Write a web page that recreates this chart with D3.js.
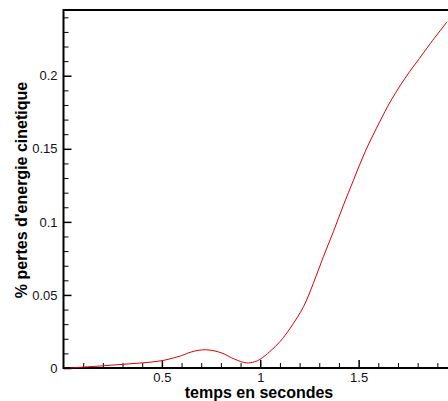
<!DOCTYPE html>
<html>
<head>
<meta charset="utf-8">
<script src="https://cdn.jsdelivr.net/npm/d3@7"></script>
<style>
  body { margin: 0; background: #fff; }
  text { font-family: "Liberation Sans", Arial, sans-serif; }
</style>
</head>
<body>
<div id="chart"></div>
<script>
// temps (s) et % pertes d'energie cinetique
var temps = [0.03, 0.1, 0.2, 0.3, 0.4, 0.5, 0.6, 0.65, 0.72, 0.8, 0.87, 0.93, 0.97, 1.0,
    1.05, 1.1, 1.152, 1.22, 1.27, 1.321, 1.372, 1.423, 1.474, 1.533, 1.609, 1.66,
    1.71, 1.76, 1.81, 1.864, 1.95];
var pertes = [0.0, 0.0006, 0.0015, 0.0025, 0.0035, 0.005, 0.0085, 0.011, 0.0125, 0.0105,
    0.006, 0.0035, 0.0042, 0.006, 0.0114, 0.018, 0.0272, 0.042, 0.058, 0.0762, 0.0934,
    0.1115, 0.1286, 0.148, 0.169, 0.182, 0.193, 0.203, 0.212, 0.222, 0.237];
var xTicks = [0.5, 1, 1.5];
var xMinor = [0.1, 0.2, 0.3, 0.4, 0.6, 0.7, 0.8, 0.9, 1.1, 1.2, 1.3, 1.4, 1.6, 1.7, 1.8, 1.9];
var yTicks = [0, 0.05, 0.1, 0.15, 0.2];
var yMinor = d3.range(1, 25).map(function(i) { return i / 100; })
    .filter(function(v) { return Math.round(v * 100) % 5 !== 0; });

var width = 448, height = 401;

var x = d3.scaleLinear().domain([0, 2]).range([63.5, 457]);
var y = d3.scaleLinear().domain([0, 0.245]).range([368, 10]);

var svg = d3.select("#chart")
    .append("svg")
    .attr("width", width)
    .attr("height", height);

// minor ticks
svg.append("g")
    .attr("transform", "translate(0," + y(0) + ")")
    .call(d3.axisBottom(x).tickValues(xMinor).tickSize(-5).tickFormat(""))
    .call(function(g) { g.select(".domain").remove(); });
svg.append("g")
    .attr("transform", "translate(" + x(0) + ",0)")
    .call(d3.axisLeft(y).tickValues(yMinor).tickSize(-5).tickFormat(""))
    .call(function(g) { g.select(".domain").remove(); });

// major ticks
var gx = svg.append("g")
    .attr("transform", "translate(0," + y(0) + ")")
    .call(d3.axisBottom(x).tickValues(xTicks).tickSizeInner(-8).tickSizeOuter(0).tickPadding(5)
        .tickFormat(d3.format("")));
var gy = svg.append("g")
    .attr("transform", "translate(" + x(0) + ",0)")
    .call(d3.axisLeft(y).tickValues(yTicks).tickSizeInner(-8).tickSizeOuter(0).tickPadding(6)
        .tickFormat(d3.format("")));

[gx, gy].forEach(function(g) {
    g.select(".domain").remove();
    g.selectAll(".tick line").attr("stroke-width", 1.5);
    g.selectAll("text")
        .attr("font-size", 13)
        .attr("fill", "#111")
        .style("font-family", "'Liberation Sans', Arial, sans-serif");
});

// cadre
svg.append("rect")
    .attr("x", x(0))
    .attr("y", y(0.245))
    .attr("width", x(2) - x(0))
    .attr("height", y(0) - y(0.245))
    .attr("fill", "none")
    .attr("stroke", "#000")
    .attr("stroke-width", 2);

var line = d3.line()
    .x(function(d, i) { return x(temps[i]); })
    .y(function(d) { return y(d); })
    .curve(d3.curveCatmullRom);

svg.append("path")
    .datum(pertes)
    .attr("d", line)
    .attr("fill", "none")
    .attr("stroke", "#e00000")
    .attr("stroke-width", 1);

svg.append("text")
    .attr("x", 259)
    .attr("y", 398)
    .attr("text-anchor", "middle")
    .attr("font-size", 16)
    .attr("font-weight", "bold")
    .text("temps en secondes");

svg.append("text")
    .attr("transform", "translate(27,190) rotate(-90)")
    .attr("text-anchor", "middle")
    .attr("font-size", 16)
    .attr("font-weight", "bold")
    .text("% pertes d'energie cinetique");
</script>
</body>
</html>
